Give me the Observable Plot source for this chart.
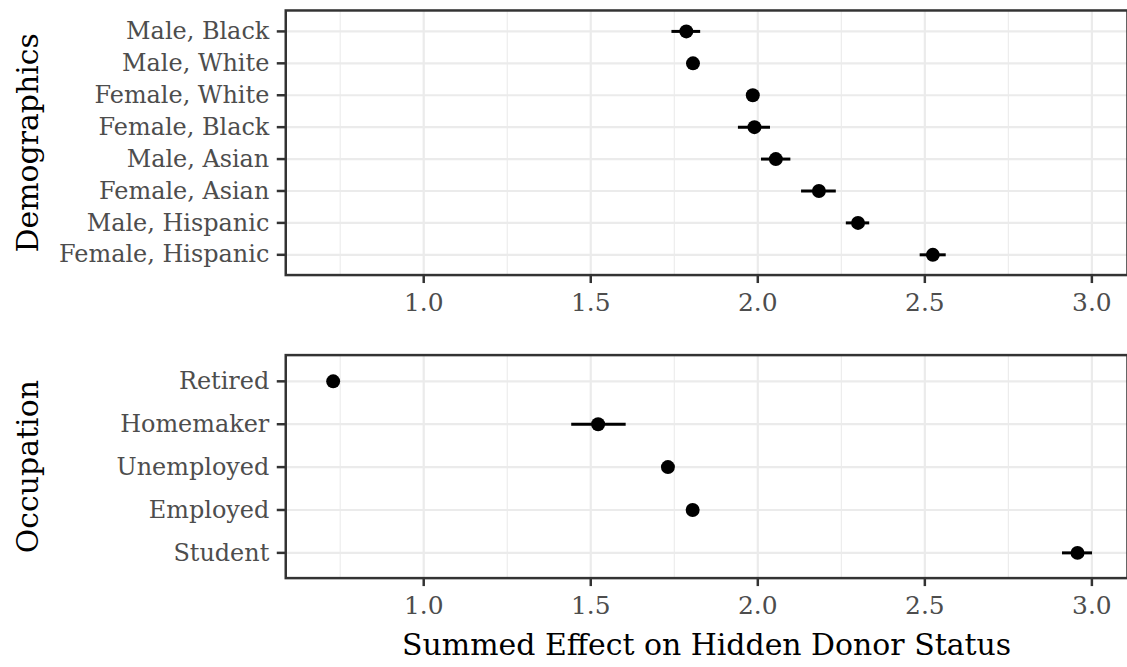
<!DOCTYPE html>
<html><head><meta charset="utf-8">
<script src="https://cdn.jsdelivr.net/npm/d3@7"></script>
<script src="https://cdn.jsdelivr.net/npm/@observablehq/plot@0.6"></script>
<style>
html,body{margin:0;padding:0;background:#fff;overflow:hidden;}
#chart{width:1127px;height:667px;overflow:hidden;}
#chart svg{display:block;}
</style></head><body><div id="chart"></div>
<script>
// ---- data ----
const demoCategories = ["Male, Black","Male, White","Female, White","Female, Black","Male, Asian","Female, Asian","Male, Hispanic","Female, Hispanic"];
const demoEstimate = [1.786, 1.806, 1.985, 1.990, 2.054, 2.183, 2.300, 2.524];
const demoLower    = [1.743, 1.795, 1.975, 1.942, 2.011, 2.131, 2.265, 2.486];
const demoUpper    = [1.829, 1.817, 1.995, 2.038, 2.099, 2.235, 2.335, 2.564];

const occCategories = ["Retired","Homemaker","Unemployed","Employed","Student"];
const occEstimate = [0.729, 1.522, 1.731, 1.805, 2.957];
const occLower    = [0.720, 1.443, 1.720, 1.795, 2.912];
const occUpper    = [0.738, 1.606, 1.742, 1.815, 3.002];

const xTicks = [1.0, 1.5, 2.0, 2.5, 3.0];
const xMinorTicks = [0.75, 1.25, 1.75, 2.25, 2.75];
const xTitle = "Summed Effect on Hidden Donor Status";
const panelTitles = ["Demographics", "Occupation"];

// ---- drawing ----
const FONT = "DejaVu Serif";
const W = 1130;
const xDomain = [0.587, 3.1066];

function panel({cats, est, lo, hi, title, height, marginTop, marginBottom, xLabel}) {
  const rows = cats.map((c, i) => ({cat: c, est: est[i], lo: lo[i], hi: hi[i]}));
  const marks = [
    Plot.gridX(xMinorTicks, {stroke: "#EBEBEB", strokeOpacity: 1, strokeWidth: 1.1}),
    Plot.gridX(xTicks, {stroke: "#EBEBEB", strokeOpacity: 1, strokeWidth: 2.2}),
    Plot.gridY(cats, {stroke: "#EBEBEB", strokeOpacity: 1, strokeWidth: 2.2}),
    Plot.ruleY(rows, {y: "cat", x1: "lo", x2: "hi", stroke: "#000", strokeWidth: 3}),
    Plot.dot(rows, {x: "est", y: "cat", r: 7, fill: "#000", stroke: null}),
    Plot.frame({stroke: "#333333", strokeWidth: 2.5}),
    Plot.axisX(xTicks, {tickFormat: d3.format(".1f"), tickSize: 8.5, tickPadding: 10, fontSize: 25, fontFamily: FONT,
      stroke: "#333333", strokeWidth: 2.5, fill: "#4D4D4D", label: null}),
    Plot.axisY(cats, {tickSize: 8.5, tickPadding: 8, fontSize: 24, fontFamily: FONT,
      stroke: "#333333", strokeWidth: 2.5, fill: "#4D4D4D", label: null}),
    Plot.text([title], {text: d => d, frameAnchor: "left", rotate: -90, dx: -258.5, fontSize: 30,
      fontFamily: FONT, fill: "#000", lineAnchor: "middle", textAnchor: "middle"})
  ];
  if (xLabel) marks.push(Plot.text([xLabel], {text: d => d, frameAnchor: "bottom", dy: 67.5, fontSize: 30,
      fontFamily: FONT, fill: "#000", lineAnchor: "middle", textAnchor: "middle"}));
  return Plot.plot({
    width: W, height, marginLeft: 286, marginRight: 0, marginTop, marginBottom,
    style: {fontFamily: FONT, background: "#fff", overflow: "visible"},
    x: {domain: xDomain, label: null},
    y: {type: "point", domain: cats, padding: 0.6, label: null},
    marks
  });
}

const chart = document.getElementById("chart");
chart.appendChild(panel({cats: demoCategories, est: demoEstimate, lo: demoLower, hi: demoUpper,
  title: panelTitles[0], height: 320, marginTop: 10, marginBottom: 44.7}));
chart.appendChild(panel({cats: occCategories, est: occEstimate, lo: occLower, hi: occUpper,
  title: panelTitles[1], height: 347, marginTop: 35.7, marginBottom: 87.7, xLabel: xTitle}));
</script>
</body></html>
